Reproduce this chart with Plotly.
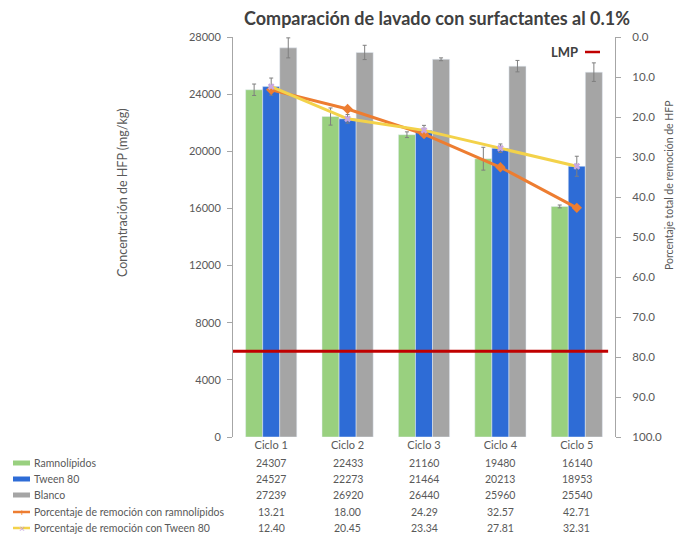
import plotly.graph_objects as go
from plotly.subplots import make_subplots

categorias = ["Ciclo 1", "Ciclo 2", "Ciclo 3", "Ciclo 4", "Ciclo 5"]
ramnolipidos = [24307, 22433, 21160, 19480, 16140]
tween80 = [24527, 22273, 21464, 20213, 18953]
blanco = [27239, 26920, 26440, 25960, 25540]
pct_ramno = [13.21, 18.00, 24.29, 32.57, 42.71]
pct_tween = [12.40, 20.45, 23.34, 27.81, 32.31]
err_ramno = [400, 600, 200, 800, 100]
err_tween = [600, 300, 350, 300, 700]
err_blanco = [700, 500, 100, 400, 650]
lmp = 6000

nombres = ["Ramnolípidos", "Tween 80", "Blanco",
           "Porcentaje de remoción con ramnolípidos",
           "Porcentaje de remoción con Tween 80"]

C_GREEN = "#99D07F"
C_BLUE = "#2E6CD6"
C_GRAY = "#A5A5A5"
C_ORANGE = "#ED7D31"
C_YELLOW = "#F3D24A"
C_TXT = "#595959"
FONT = "Lato"

L, R, T, B = 233, 63, 37, 105
W, H = 678, 542
PW = W - L - R
PH = H - T - B

def px(x):
    return (x - L) / PW

def py(y):
    return (H - B - y) / PH

fig = make_subplots(specs=[[{"secondary_y": True}]])

eb = lambda arr: dict(type="data", array=arr, visible=True, color="#7F7F7F", thickness=1, width=2)

fig.add_trace(go.Bar(x=categorias, y=ramnolipidos, name=nombres[0], marker_color=C_GREEN,
                     error_y=eb(err_ramno)), secondary_y=False)
fig.add_trace(go.Bar(x=categorias, y=tween80, name=nombres[1], marker_color=C_BLUE,
                     error_y=eb(err_tween)), secondary_y=False)
fig.add_trace(go.Bar(x=categorias, y=blanco, name=nombres[2], marker_color=C_GRAY,
                     error_y=eb(err_blanco)), secondary_y=False)

fig.add_trace(go.Scatter(x=categorias, y=pct_ramno, name=nombres[3], mode="lines+markers",
                         line=dict(color=C_ORANGE, width=3),
                         marker=dict(symbol="diamond", size=8, color=C_ORANGE)), secondary_y=True)
fig.add_trace(go.Scatter(x=categorias, y=pct_tween, name=nombres[4], mode="lines+markers",
                         line=dict(color=C_YELLOW, width=3),
                         marker=dict(symbol="x", size=6, color="#C9A7E0")), secondary_y=True)

# LMP line
fig.add_shape(type="line", xref="x domain", yref="y", x0=0, x1=0.982, y0=lmp, y1=lmp,
              line=dict(color="#C00000", width=3))

annotations = []
# Title
annotations.append(dict(text="<b>Comparación de lavado con surfactantes al 0.1%</b>",
                        xref="paper", yref="paper", x=px(437), y=py(18), showarrow=False,
                        font=dict(family=FONT, size=18, color="#404040"),
                        xanchor="center", yanchor="middle"))
# Axis titles
annotations.append(dict(text="Concentración de HFP (mg/kg)", xref="paper", yref="paper",
                        x=px(122), y=py(193), textangle=-90, showarrow=False,
                        font=dict(family=FONT, size=12.5, color=C_TXT),
                        xanchor="center", yanchor="middle"))
annotations.append(dict(text="Porcentaje total de remoción de HFP", xref="paper", yref="paper",
                        x=px(669), y=py(185), textangle=-90, showarrow=False,
                        font=dict(family=FONT, size=10.5, color=C_TXT),
                        xanchor="center", yanchor="middle"))
# LMP legend
annotations.append(dict(text="<b>LMP</b>", xref="paper", yref="paper", x=px(580), y=py(52),
                        showarrow=False, font=dict(family=FONT, size=13, color="#404040"),
                        xanchor="right", yanchor="middle"))
fig.add_shape(type="line", xref="paper", yref="paper", x0=px(585), x1=px(600), y0=py(52), y1=py(52),
              line=dict(color="#C00000", width=2.5))

# Data table
row_y = [463, 479, 495, 512, 528]
valores = [ramnolipidos, tween80, blanco, pct_ramno, pct_tween]
fmt = ["{:d}", "{:d}", "{:d}", "{:.2f}", "{:.2f}"]
for i, (nombre, vals, f, yy) in enumerate(zip(nombres, valores, fmt, row_y)):
    annotations.append(dict(text=nombre, xref="paper", yref="paper", x=px(32), y=py(yy),
                            showarrow=False, font=dict(family=FONT, size=10.5, color=C_TXT),
                            xanchor="left", yanchor="middle"))
    for c, v in zip(categorias, vals):
        annotations.append(dict(text=f.format(v), xref="x", yref="paper", x=c, y=py(yy),
                                showarrow=False, font=dict(family=FONT, size=10.5, color=C_TXT),
                                xanchor="center", yanchor="middle"))

# Legend keys
for col, yy in zip([C_GREEN, C_BLUE, C_GRAY], row_y[:3]):
    fig.add_shape(type="rect", xref="paper", yref="paper", x0=px(13), x1=px(30),
                  y0=py(yy + 2.5), y1=py(yy - 2.5), fillcolor=col, line=dict(width=0))
fig.add_shape(type="line", xref="paper", yref="paper", x0=px(13), x1=px(30), y0=py(row_y[3]), y1=py(row_y[3]),
              line=dict(color=C_ORANGE, width=2.5))
fig.add_shape(type="line", xref="paper", yref="paper", x0=px(13), x1=px(30), y0=py(row_y[4]), y1=py(row_y[4]),
              line=dict(color=C_YELLOW, width=2.5))
annotations.append(dict(text="+", xref="paper", yref="paper", x=px(21.5), y=py(row_y[3]),
                        showarrow=False, font=dict(family=FONT, size=10, color=C_ORANGE),
                        xanchor="center", yanchor="middle"))
annotations.append(dict(text="×", xref="paper", yref="paper", x=px(21.5), y=py(row_y[4]),
                        showarrow=False, font=dict(family=FONT, size=10, color="#C9A7E0"),
                        xanchor="center", yanchor="middle"))

fig.update_layout(
    width=W, height=H,
    margin=dict(l=L, r=R, t=T, b=B, pad=0),
    paper_bgcolor="white", plot_bgcolor="white",
    barmode="group", bargap=0.33, bargroupgap=0,
    showlegend=False,
    annotations=annotations,
    font=dict(family=FONT, color=C_TXT),
)
fig.update_xaxes(domain=[0, 1], showline=False, ticks="", tickfont=dict(family=FONT, size=11, color=C_TXT),
                 showgrid=False, zeroline=False)
fig.update_yaxes(range=[0, 28000], dtick=4000, showgrid=False, zeroline=False,
                 showline=True, linecolor="#A6A6A6", linewidth=1, ticks="outside", ticklen=5,
                 tickcolor="#A6A6A6", tickfont=dict(family=FONT, size=11, color=C_TXT),
                 ticklabelstandoff=4, tickformat="d", secondary_y=False)
fig.update_yaxes(range=[100, 0], dtick=10, showgrid=False, zeroline=False,
                 showline=True, linecolor="#A6A6A6", linewidth=1, ticks="outside", ticklen=5,
                 tickcolor="#A6A6A6", tickfont=dict(family=FONT, size=11.5, color=C_TXT),
                 ticklabelstandoff=9, tickformat=".1f", secondary_y=True)

fig.write_html("out.html", config={"displayModeBar": False},
               post_script="document.body.style.margin='0';")
